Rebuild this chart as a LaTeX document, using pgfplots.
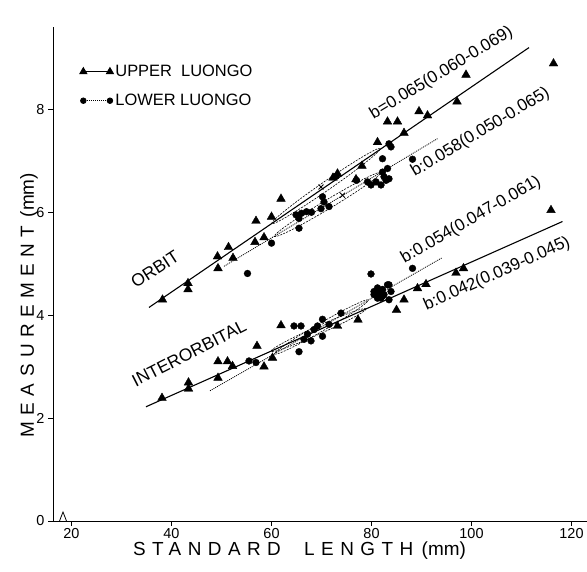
\documentclass[border=0pt]{standalone}
\usepackage{fontspec}
\setmainfont{Liberation Sans}
\usepackage{pgfplots}
\pgfplotsset{compat=1.18}
\pgfplotstableread{
x y
38.2 4.30
43.3 4.62
43.3 4.50
49.2 5.14
51.4 5.32
49.3 4.91
52.3 5.11
56.9 5.83
56.7 5.42
58.5 5.51
60.0 5.91
61.9 6.26
72.3 6.67
73.2 6.75
76.9 6.64
78.1 6.90
81.2 7.36
83.2 7.76
85.2 7.76
86.5 7.54
89.5 7.96
91.2 7.88
97.1 8.15
98.9 8.67
116.4 8.89
}\upperorbit
\pgfplotstableread{
x y
55.2 4.81
60.0 5.40
65.5 5.69
64.9 5.95
66.0 5.98
67.0 6.01
68.0 6.00
65.5 5.88
70.2 6.30
70.5 6.20
71.5 6.11
69.9 6.07
72.9 6.70
77.0 6.62
79.2 6.59
79.9 6.53
80.9 6.59
81.9 6.53
82.9 6.62
83.5 6.65
82.2 6.78
82.5 6.69
83.2 6.85
82.2 7.04
83.5 7.33
83.9 7.27
88.2 7.03
}\lowerorbit
\pgfplotstableread{
x y
38.1 2.39
43.4 2.69
43.4 2.57
49.3 3.10
51.2 3.10
52.2 3.01
49.3 2.78
57.1 3.40
58.5 3.00
60.2 3.17
61.9 3.80
73.2 3.79
77.3 3.91
85.0 4.10
86.5 4.30
89.2 4.52
90.9 4.60
96.9 4.82
98.4 4.91
115.9 6.04
}\upperinter
\pgfplotstableread{
x y
55.5 3.11
56.9 3.08
64.5 3.79
65.9 3.79
65.5 3.29
67.2 3.63
67.9 3.50
66.5 3.53
70.2 3.92
70.2 3.59
68.5 3.72
69.2 3.79
71.5 3.82
73.9 4.04
79.9 4.80
80.5 4.40
81.2 4.53
82.2 4.50
82.5 4.40
83.2 4.59
83.9 4.46
81.9 4.33
83.5 4.30
81.5 4.43
83.5 4.59
88.2 4.91
81.2 4.33
82.2 4.37
80.5 4.46
}\lowerinter
\begin{document}
\begin{tikzpicture}
\begin{axis}[
  scale only axis, width=533.5bp, height=494bp,
  xmin=16.3, xmax=123, ymin=0, ymax=9.6,
  axis lines*=left,
  axis line style={line width=0.9bp},
  xtick={20,40,60,80,100,120}, ytick={0,2,4,6,8},
  tick align=outside, major tick length=5bp,
  tick style={line width=0.8bp, black},
  /pgf/number format/assume math mode=true,
  ticklabel style={font=\fontsize{14.5}{16}\selectfont},
  xticklabel style={yshift=1bp},
  xlabel={{\addfontfeature{LetterSpace=34}STANDARD\ \ LENGTH}\hspace{0.45em}(mm)},
  ylabel={{\addfontfeature{LetterSpace=34}MEASUREMENT}\hspace{0.45em}(mm)},
  label style={font=\fontsize{19}{21}\selectfont},
  xlabel style={at={(axis description cs:0.462,-0.06)}, anchor=center},
  ylabel style={at={(axis description cs:-0.045,0.437)}, anchor=center},
  clip=false,
  legend image code/.code={\draw[#1] plot coordinates {(0bp,0bp) (26.6bp,0bp)};},
  legend style={at={(axis description cs:0.05,0.927)}, anchor=north west,
    draw=none, fill=none, inner sep=0pt,
    font=\fontsize{16.5}{18}\selectfont, row sep=12bp,
    nodes={inner sep=2bp}},
  legend cell align=left,
]
\addlegendimage{black, solid, line width=1bp, mark=triangle*, mark size=4bp}
\addlegendentry{UPPER\ \ LUONGO}
\addlegendimage{black, dash pattern=on 1bp off 1bp, line width=0.8bp, mark=*, mark size=2.8bp, mark options={solid}}
\addlegendentry{LOWER LUONGO}

% regression lines
\addplot[black, line width=1.1bp, forget plot] coordinates {(35.5,4.15) (111.5,9.20)};
\addplot[black, line width=0.8bp, dash pattern=on 1bp off 1bp, forget plot] coordinates {(50.5,4.95) (93.2,7.43)};
\addplot[black, line width=1.1bp, forget plot] coordinates {(34.9,2.22) (118.2,5.82)};
\addplot[black, line width=0.8bp, dash pattern=on 1bp off 1bp, forget plot] coordinates {(47.7,2.53) (94.2,5.12)};

% points
\addplot[only marks, mark=triangle*, mark size=5bp, black, forget plot] table {\upperorbit};
\addplot[only marks, mark=*, mark size=3.4bp, black, forget plot] table {\lowerorbit};
\addplot[only marks, mark=triangle*, mark size=5bp, black, forget plot] table {\upperinter};
\addplot[only marks, mark=*, mark size=3.4bp, black, forget plot] table {\lowerinter};
\addplot[only marks, mark=x, mark size=3.5bp, line width=1bp, black, forget plot] coordinates {(69.9,6.49) (74.2,6.33)};

% confidence ellipses
\draw[black, line width=0.6bp, dash pattern=on 2bp off 1.2bp, rotate around={34.7:(axis cs:70.9,6.51)}] (axis cs:70.9,6.51) ellipse [x radius=66bp, y radius=4.5bp];
\draw[black, line width=0.6bp, dash pattern=on 2bp off 1.2bp, rotate around={31:(axis cs:71.2,6.15)}] (axis cs:71.2,6.15) ellipse [x radius=62bp, y radius=4.5bp];
\draw[black, line width=0.6bp, dash pattern=on 2bp off 1.2bp, rotate around={24.1:(axis cs:69.4,3.71)}] (axis cs:69.4,3.71) ellipse [x radius=52bp, y radius=4bp];
\draw[black, line width=0.6bp, dash pattern=on 2bp off 1.2bp, rotate around={30:(axis cs:70,3.77)}] (axis cs:70,3.77) ellipse [x radius=54bp, y radius=4bp];

% labels
\node[rotate=33, font=\fontsize{17.5}{20}\selectfont] at (axis cs:36.7,4.89) {ORBIT};
\node[rotate=27, font=\fontsize{17.5}{20}\selectfont] at (axis cs:43.5,3.26) {INTERORBITAL};
\node[rotate=31, font=\fontsize{17}{19}\selectfont] at (axis cs:94.0,8.70) {b=0.065(0.060-0.069)};
\node[rotate=31, font=\fontsize{17}{19}\selectfont] at (axis cs:101.8,7.55) {b:0.058(0.050-0.065)};
\node[rotate=30, font=\fontsize{17}{19}\selectfont] at (axis cs:99.9,5.85) {b:0.054(0.047-0.061)};
\node[rotate=24, font=\fontsize{17}{19}\selectfont] at (axis cs:105.1,4.80) {b:0.042(0.039-0.045)};

% axis break mark
\draw[line width=0.8bp] ([xshift=-3.5bp]axis cs:18.3,0) -- ([yshift=9bp]axis cs:18.3,0) -- ([xshift=3.5bp]axis cs:18.3,0);
\end{axis}
\pgfresetboundingbox
\path[use as bounding box] (-53bp,-51bp) rectangle (534bp,521bp);
\end{tikzpicture}
\end{document}
